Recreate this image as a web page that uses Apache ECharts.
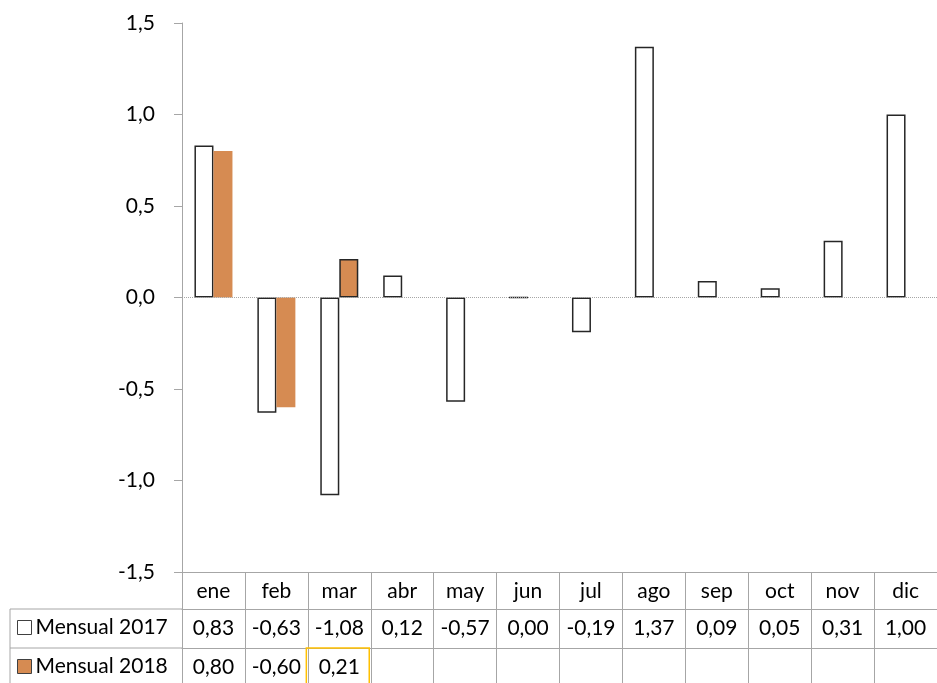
<!DOCTYPE html>
<html>
<head>
<meta charset="utf-8">
<script src="https://cdn.jsdelivr.net/npm/echarts@6/dist/echarts.min.js"></script>
<style>
html,body{margin:0;padding:0;background:#fff;}
#chart{width:937px;height:683px;}
</style>
</head>
<body>
<div id="chart"></div>
<script>
var categories = ['ene','feb','mar','abr','may','jun','jul','ago','sep','oct','nov','dic'];
var mensual2017 = [0.83,-0.63,-1.08,0.12,-0.57,0.00,-0.19,1.37,0.09,0.05,0.31,1.00];
var mensual2018 = [0.80,-0.60,0.21,null,null,null,null,null,null,null,null,null];
var seriesNames = ['Mensual 2017','Mensual 2018'];
var yTicks = {min:-1.5, max:1.5, interval:0.5};

var FONT = 'Lato';
var FS = 21;
var GRID_LINE = '#A6A6A6';

function fmt(v, d){
  if (v === null || v === undefined) return '';
  return v.toFixed(d).replace('.', ',');
}

var chart = echarts.init(document.getElementById('chart'));

var data2018 = mensual2018.map(function(v, i){
  if (i === 2) return {value: v, itemStyle: {borderColor:'#262626', borderWidth:1.5}};
  return v;
});

var legendText = {fontFamily: FONT, fontSize: FS, color: '#000', padding: [0,0,0,-1]};

chart.setOption({
  animation: false,
  textStyle: {fontFamily: FONT},
  grid: {left: 182, right: -5, top: 23, bottom: 111, containLabel: false},
  legend: [
    {data: [{name: seriesNames[0], icon: 'rect'}], left: 17, top: 617, padding: 0, orient: 'vertical',
     itemWidth: 14, itemHeight: 14, itemGap: 0,
     itemStyle: {borderColor: '#404040', borderWidth: 1},
     textStyle: legendText, selectedMode: false},
    {data: [{name: seriesNames[1], icon: 'rect'}], left: 17, top: 656, padding: 0, orient: 'vertical',
     itemWidth: 14, itemHeight: 14, itemGap: 0,
     itemStyle: {borderColor: '#404040', borderWidth: 1},
     textStyle: legendText, selectedMode: false}
  ],
  xAxis: [
    {type: 'category', data: categories, position: 'bottom', offset: 0,
     axisLine: {onZero: false, lineStyle: {color: GRID_LINE, width: 1}},
     axisTick: {show: true, interval: 0, length: 115, lineStyle: {color: GRID_LINE}},
     axisLabel: {interval: 0, margin: 9, fontFamily: FONT, fontSize: FS, color: '#000'}},
    {type: 'category', data: categories, position: 'bottom', offset: 37,
     axisLine: {onZero: false, lineStyle: {color: GRID_LINE, width: 1}},
     axisTick: {show: false},
     axisLabel: {interval: 0, margin: 9, fontFamily: FONT, fontSize: FS, color: '#000',
       formatter: function(v, i){ return fmt(mensual2017[i], 2); }}},
    {type: 'category', data: categories, position: 'bottom', offset: 76,
     axisLine: {onZero: false, lineStyle: {color: GRID_LINE, width: 1}},
     axisTick: {show: false},
     axisLabel: {interval: 0, margin: 9, fontFamily: FONT, fontSize: FS, color: '#000',
       formatter: function(v, i){ return fmt(mensual2018[i], 2); }}}
  ],
  yAxis: {
    type: 'value', min: yTicks.min, max: yTicks.max, interval: yTicks.interval,
    axisLine: {show: true, lineStyle: {color: GRID_LINE, width: 1}},
    axisTick: {show: true, length: 8, lineStyle: {color: GRID_LINE}},
    splitLine: {show: false},
    axisLabel: {margin: 27, fontFamily: FONT, fontSize: FS, color: '#000',
      formatter: function(v){ return fmt(v, 1); }}
  },
  series: [
    {name: seriesNames[0], type: 'bar', xAxisIndex: 0, data: mensual2017, barWidth: 19, barGap: '0%',
     itemStyle: {color: '#FFFFFF', borderColor: '#262626', borderWidth: 1.5},
     markLine: {silent: true, symbol: 'none', label: {show: false},
       lineStyle: {type: 'dotted', color: '#A6A6A6', width: 1},
       data: [{yAxis: 0}]}},
    {name: seriesNames[1], type: 'bar', xAxisIndex: 0, data: data2018, barWidth: 19, barGap: '0%',
     itemStyle: {color: '#D68B52', borderWidth: 0}}
  ]
});

// table borders on the legend side and highlighted cell
var p0 = chart.convertToPixel({xAxisIndex: 0}, 0);
var p1 = chart.convertToPixel({xAxisIndex: 0}, 1);
var half = (p1 - p0) / 2;
var pm = chart.convertToPixel({xAxisIndex: 0}, 2);
var yBottom = chart.convertToPixel({yAxisIndex: 0}, yTicks.min);
var row1 = yBottom + 37, row2 = yBottom + 76;
var axisX = p0 - half;
chart.setOption({
  graphic: [
    {type: 'line', shape: {x1: 10, y1: row1, x2: axisX, y2: row1}, style: {stroke: GRID_LINE, lineWidth: 1}},
    {type: 'line', shape: {x1: 10, y1: row2, x2: axisX, y2: row2}, style: {stroke: GRID_LINE, lineWidth: 1}},
    {type: 'line', shape: {x1: 10, y1: row1, x2: 10, y2: 700}, style: {stroke: GRID_LINE, lineWidth: 1}},
    {type: 'rect', shape: {x: pm - half - 1.5, y: row2, width: half * 2, height: 40},
     style: {fill: 'none', stroke: '#FFC000', lineWidth: 1.5}, z: 10}
  ]
});
</script>
</body>
</html>
